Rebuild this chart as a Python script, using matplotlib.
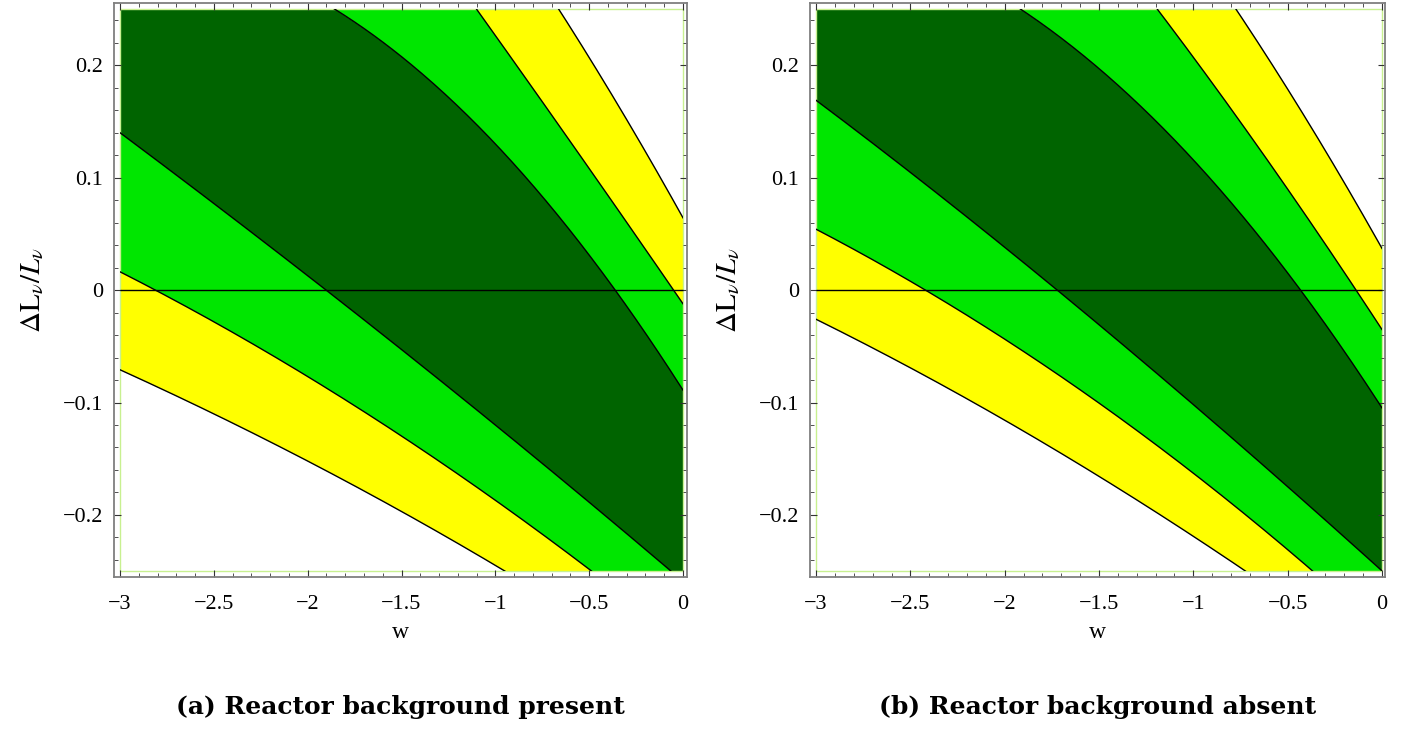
import numpy as np
import matplotlib
matplotlib.use("Agg")
import matplotlib.pyplot as plt
from matplotlib.patches import Rectangle
from matplotlib.ticker import MultipleLocator, FuncFormatter

plt.rcParams['font.family'] = ['Liberation Serif', 'DejaVu Serif']
plt.rcParams['mathtext.fontset'] = 'stix'

# w grid the boundaries were read at
w = [-3.0, -2.75, -2.5, -2.25, -2.0, -1.75, -1.5, -1.25, -1.0, -0.75, -0.5, -0.25, 0.0]

# (a) reactor background present: contour boundaries, top to bottom
a_outer_up = [0.694, 0.663, 0.627, 0.588, 0.544, 0.498, 0.447, 0.393, 0.334, 0.273, 0.207, 0.138, 0.064]
a_mid_up = [0.680, 0.625, 0.570, 0.514, 0.457, 0.400, 0.343, 0.285, 0.227, 0.168, 0.108, 0.048, -0.012]
a_inner_up = [0.313, 0.309, 0.299, 0.284, 0.264, 0.239, 0.208, 0.172, 0.130, 0.083, 0.031, -0.026, -0.089]
a_inner_lo = [0.140, 0.109, 0.077, 0.045, 0.013, -0.020, -0.053, -0.086, -0.120, -0.154, -0.189, -0.224, -0.259]
a_mid_lo = [0.016, -0.005, -0.028, -0.052, -0.077, -0.103, -0.130, -0.158, -0.187, -0.217, -0.248, -0.281, -0.314]
a_outer_lo = [-0.071, -0.090, -0.110, -0.131, -0.152, -0.174, -0.197, -0.221, -0.245, -0.270, -0.296, -0.323, -0.351]

# (b) reactor background absent
b_outer_up = [0.662, 0.630, 0.595, 0.556, 0.513, 0.467, 0.417, 0.363, 0.305, 0.244, 0.179, 0.110, 0.037]
b_mid_up = [0.601, 0.558, 0.514, 0.468, 0.419, 0.369, 0.317, 0.263, 0.207, 0.150, 0.090, 0.028, -0.035]
b_inner_up = [0.326, 0.317, 0.302, 0.283, 0.259, 0.231, 0.197, 0.159, 0.116, 0.068, 0.015, -0.042, -0.105]
b_inner_lo = [0.169, 0.137, 0.105, 0.072, 0.038, 0.004, -0.031, -0.066, -0.102, -0.138, -0.175, -0.212, -0.250]
b_mid_lo = [0.054, 0.032, 0.008, -0.017, -0.044, -0.071, -0.101, -0.131, -0.163, -0.196, -0.231, -0.267, -0.305]
b_outer_lo = [-0.026, -0.047, -0.069, -0.092, -0.116, -0.140, -0.166, -0.192, -0.219, -0.247, -0.276, -0.305, -0.336]

captions = ["(a) Reactor background present", "(b) Reactor background absent"]

band_colors = ['#ffff00', '#00e600', '#006400', '#00e600', '#ffff00']

panels = [
    ([a_outer_up, a_mid_up, a_inner_up, a_inner_lo, a_mid_lo, a_outer_lo], captions[0]),
    ([b_outer_up, b_mid_up, b_inner_up, b_inner_lo, b_mid_lo, b_outer_lo], captions[1]),
]

fig = plt.figure(figsize=(14.06, 7.33), dpi=100)
boxes = [[0.0811, 0.2128, 0.4075, 0.7827], [0.5761, 0.2128, 0.409, 0.7827]]
xlims = [(-3.032, 0.021), (-3.032, 0.016)]

fmt = FuncFormatter(lambda v, p: ('%g' % v).replace('-', '\u2212') if abs(v) > 1e-9 else '0')

# smooth drawing of the read boundaries (contour lines are smooth curves)
wf = np.linspace(w[0], w[-1], 301)


def smooth(c):
    return np.polyval(np.polyfit(w, c, 3), wf)


for (curves, cap), box, xl in zip(panels, boxes, xlims):
    ax = fig.add_axes(box)
    clip = Rectangle((w[0], -0.25), w[-1] - w[0], 0.5, transform=ax.transData)
    sm = [smooth(c) for c in curves]

    for i, col in enumerate(band_colors):
        pc = ax.fill_between(wf, sm[i], sm[i + 1], color=col, lw=0)
        pc.set_clip_path(clip)
    for c in sm:
        ln, = ax.plot(wf, c, color='black', lw=1.0)
        ln.set_clip_path(clip)
    ax.hlines(0, w[0], w[-1], color='black', lw=1.0)
    ax.add_patch(Rectangle((w[0], -0.25), w[-1] - w[0], 0.5, fill=False,
                           edgecolor='#c8f090', lw=1.0, zorder=1.5))

    ax.set_xlim(*xl)
    ax.set_ylim(-0.2553, 0.2553)
    ax.xaxis.set_major_locator(MultipleLocator(0.5))
    ax.xaxis.set_minor_locator(MultipleLocator(0.1))
    ax.yaxis.set_major_locator(MultipleLocator(0.1))
    ax.yaxis.set_minor_locator(MultipleLocator(0.02))
    ax.xaxis.set_major_formatter(fmt)
    ax.yaxis.set_major_formatter(fmt)
    ax.tick_params(which='both', direction='in', top=True, right=True,
                   color='#333333', labelsize=16)
    ax.tick_params(which='major', length=5, width=0.8)
    ax.tick_params(which='minor', length=3, width=0.6)
    ax.tick_params(axis='x', pad=13)
    ax.tick_params(axis='y', pad=8)
    for s in ax.spines.values():
        s.set_color('#7f7f7f')
        s.set_linewidth(1.3)

    ax.set_xlabel('w', fontsize=17, labelpad=6)
    ax.set_ylabel(r'$\Delta\mathrm{L}_\nu/L_\nu$', fontsize=21, labelpad=12)
    fig.text(box[0] + box[2] / 2, 0.036, cap, ha='center', va='center',
             fontsize=18, fontweight='bold', family='DejaVu Serif')

fig.savefig('out.png', dpi=100)
